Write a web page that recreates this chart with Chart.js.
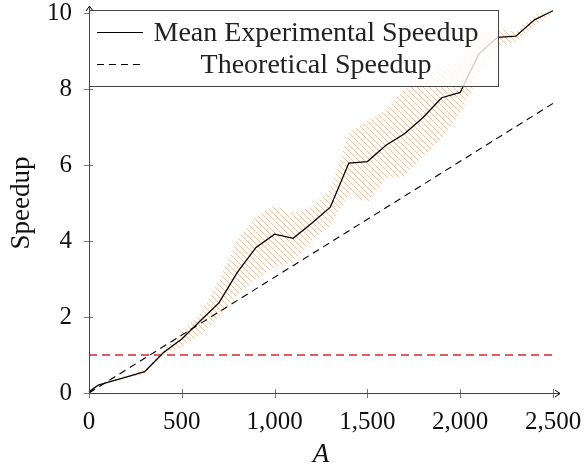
<!DOCTYPE html>
<html>
<head>
<meta charset="utf-8">
<script src="https://cdn.jsdelivr.net/npm/chart.js@4"></script>
<style>
  body { margin: 0; background: #fff; }
</style>
</head>
<body>
<canvas id="speedupChart" width="587" height="466"></canvas>
<script>
// values
var aValues = [0, 50, 100, 200, 300, 400, 500, 600, 700, 800, 900, 1000, 1100, 1200, 1300,
               1400, 1500, 1600, 1700, 1800, 1900, 2000, 2100, 2200, 2300, 2400, 2500];
var meanSpeedup = [0.03, 0.21, 0.28, 0.42, 0.56, 1.06, 1.42, 1.9, 2.37, 3.18, 3.83, 4.18, 4.07, 4.47, 4.89,
                   6.05, 6.09, 6.52, 6.82, 7.25, 7.77, 7.91, 8.92, 9.36, 9.39, 9.82, 10.06];
var upperSpeedup = [0.03, 0.22, 0.3, 0.46, 0.62, 1.12, 1.62, 2.1, 2.95, 4.05, 4.65, 4.95, 4.72, 4.9, 5.35,
                    6.85, 7.15, 7.45, 8.0, 8.3, 8.6, 8.7, 9.45, 9.6, 9.5, 9.95, 10.1];
var lowerSpeedup = [0.02, 0.2, 0.26, 0.38, 0.5, 1.0, 1.22, 1.52, 2.0, 2.6, 3.0, 3.3, 3.45, 4.0, 4.4,
                    5.25, 5.0, 5.65, 5.7, 6.22, 6.7, 7.36, 8.35, 9.1, 9.25, 9.68, 9.98];
var theoryA = [0, 2500];
var theorySpeedup = [0, 7.62];
var baselineA = [0, 2500];
var baselineSpeedup = [1, 1];
var xTickValues = [0, 500, 1000, 1500, 2000, 2500];
var yTickValues = [0, 2, 4, 6, 8, 10];

var serif = "'Liberation Serif', 'DejaVu Serif', serif";

function pts(xs, ys) {
    return xs.map(function (x, i) { return {x: x, y: ys[i]}; });
}

// hatch pattern for the spread band
var hatchCanvas = document.createElement('canvas');
hatchCanvas.width = 6;
hatchCanvas.height = 6;
var hctx = hatchCanvas.getContext('2d');
hctx.strokeStyle = 'rgba(228,150,90,0.62)';
hctx.lineWidth = 0.9;
[-6, 0, 6].forEach(function (k) {
    hctx.beginPath();
    hctx.moveTo(k, 0);
    hctx.lineTo(k + 6, 6);
    hctx.stroke();
});
var hatch = hctx.createPattern(hatchCanvas, 'repeat');

// axis lines with arrow tips and centred tick marks
var axisPlugin = {
    id: 'axisPlugin',
    afterDatasetsDraw: function (chart) {
        var ctx = chart.ctx, a = chart.chartArea;
        var xs = chart.scales.x, ys = chart.scales.y;
        ctx.save();
        ctx.strokeStyle = '#777';
        ctx.lineWidth = 1;
        xTickValues.forEach(function (v) {
            var px = Math.round(xs.getPixelForValue(v)) + 0.5;
            ctx.beginPath(); ctx.moveTo(px, a.bottom - 4); ctx.lineTo(px, a.bottom + 5); ctx.stroke();
        });
        yTickValues.forEach(function (v) {
            var py = Math.round(ys.getPixelForValue(v)) + 0.5;
            ctx.beginPath(); ctx.moveTo(a.left - 5, py); ctx.lineTo(a.left + 4, py); ctx.stroke();
        });
        ctx.strokeStyle = '#444';
        ctx.beginPath();
        ctx.moveTo(a.left + 0.5, a.bottom + 0.5);
        ctx.lineTo(a.left + 0.5, a.top - 6);
        ctx.moveTo(a.left + 0.5, a.bottom + 0.5);
        ctx.lineTo(a.right + 6, a.bottom + 0.5);
        ctx.stroke();
        ctx.strokeStyle = '#000';
        ctx.beginPath();
        ctx.moveTo(a.left - 3, a.top - 2); ctx.lineTo(a.left + 0.5, a.top - 7); ctx.lineTo(a.left + 4, a.top - 2);
        ctx.moveTo(a.right + 2, a.bottom - 3); ctx.lineTo(a.right + 7, a.bottom + 0.5); ctx.lineTo(a.right + 2, a.bottom + 4);
        ctx.stroke();
        ctx.restore();
    }
};

// boxed legend inside the plot, text centred in its column
var legendBox = {
    id: 'legendBox',
    afterDraw: function (chart) {
        var ctx = chart.ctx, a = chart.chartArea;
        var ds = chart.data.datasets;
        var left = a.left, top = 10, right = 499, bottom = 87;
        ctx.save();
        ctx.fillStyle = 'rgba(255,255,255,0.8)';
        ctx.fillRect(left, top, right - left, bottom - top);
        ctx.strokeStyle = '#444';
        ctx.lineWidth = 1;
        ctx.strokeRect(left + 0.5, top + 0.5, right - left - 1, bottom - top - 1);
        var rows = [ds[0], ds[1]];
        var rowY = [32.5, 64.5];
        ctx.font = '28px ' + serif;
        ctx.fillStyle = '#222';
        ctx.textAlign = 'center';
        ctx.textBaseline = 'middle';
        rows.forEach(function (d, i) {
            ctx.strokeStyle = '#000';
            ctx.setLineDash(d.borderDash || []);
            ctx.beginPath();
            ctx.moveTo(97, rowY[i]);
            ctx.lineTo(143, rowY[i]);
            ctx.stroke();
            ctx.setLineDash([]);
            ctx.fillText(d.label, 316, rowY[i] + 1);
        });
        ctx.restore();
    }
};

var chart = new Chart(document.getElementById('speedupChart'), {
    type: 'line',
    data: {
        datasets: [{
            label: 'Mean Experimental Speedup',
            data: pts(aValues, meanSpeedup),
            borderColor: '#000',
            borderWidth: 1.3,
            pointRadius: 0,
            clip: false,
            order: 0
        }, {
            label: 'Theoretical Speedup',
            data: pts(theoryA, theorySpeedup),
            borderColor: '#000',
            borderWidth: 1.1,
            borderDash: [7, 5],
            pointRadius: 0,
            order: 1
        }, {
            label: 'baseline',
            data: pts(baselineA, baselineSpeedup),
            borderColor: 'rgb(215,40,40)',
            borderWidth: 1.4,
            borderDash: [8, 5],
            pointRadius: 0,
            order: 2
        }, {
            label: 'lower',
            data: pts(aValues, lowerSpeedup),
            borderWidth: 0,
            borderColor: 'rgba(0,0,0,0)',
            pointRadius: 0,
            fill: false,
            clip: false,
            order: 3
        }, {
            label: 'upper',
            data: pts(aValues, upperSpeedup),
            borderWidth: 0,
            borderColor: 'rgba(0,0,0,0)',
            backgroundColor: hatch,
            pointRadius: 0,
            fill: '-1',
            clip: false,
            order: 4
        }]
    },
    plugins: [axisPlugin, legendBox],
    options: {
        responsive: false,
        animation: false,
        devicePixelRatio: 1,
        layout: {padding: {left: 0, top: 13, right: 34, bottom: 0}},
        plugins: {
            legend: {display: false},
            tooltip: {enabled: false}
        },
        scales: {
            x: {
                type: 'linear',
                min: 0,
                max: 2500,
                afterFit: function (s) {
                    s.height = 73;
                    s.paddingLeft = 0;
                    s.paddingRight = 0;
                },
                afterBuildTicks: function (s) { s.ticks = xTickValues.map(function (v) { return {value: v}; }); },
                grid: {display: false},
                border: {display: false},
                ticks: {
                    padding: 9,
                    color: '#111',
                    font: {family: serif, size: 25, lineHeight: 1},
                    maxRotation: 0,
                    callback: function (v) { return v.toLocaleString('en-US'); }
                },
                title: {
                    display: true,
                    text: 'A',
                    color: '#111',
                    font: {family: serif, size: 27, style: 'italic', lineHeight: 0.5},
                    padding: {top: 0, bottom: 4}
                }
            },
            y: {
                type: 'linear',
                min: 0,
                max: 10,
                afterFit: function (s) {
                    s.width = 89;
                    s.paddingTop = 0;
                    s.paddingBottom = 0;
                },
                afterBuildTicks: function (s) { s.ticks = yTickValues.map(function (v) { return {value: v}; }); },
                grid: {display: false},
                border: {display: false},
                ticks: {
                    padding: 9,
                    color: '#111',
                    font: {family: serif, size: 25, lineHeight: 1}
                },
                title: {
                    display: true,
                    text: 'Speedup',
                    color: '#111',
                    font: {family: serif, size: 27, lineHeight: 1},
                    padding: {top: 8, bottom: 0}
                }
            }
        }
    }
});
</script>
</body>
</html>
